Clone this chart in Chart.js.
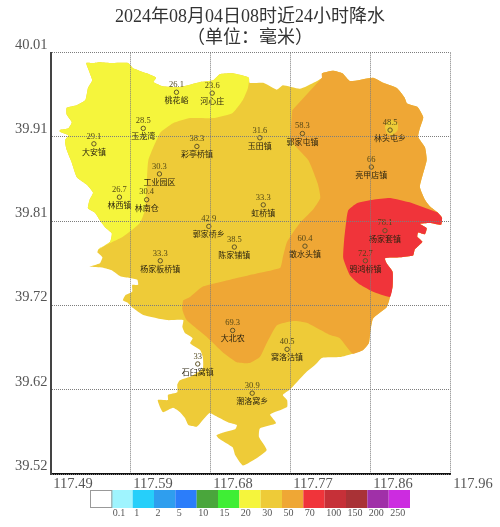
<!DOCTYPE html>
<html>
<head>
<meta charset="utf-8">
<style>
	html, body { margin: 0; padding: 0; background: #fff; }
	canvas { display: block; }
</style>
<script src="https://cdn.jsdelivr.net/npm/chart.js@4/dist/chart.umd.min.js"></script>
</head>
<body>
<canvas id="myChart" width="500" height="527"></canvas>
<script>
// Axis ticks
const xTickValues = [117.49, 117.584, 117.678, 117.772, 117.866, 117.96];
const xTickLabels = ['117.49', '117.59', '117.68', '117.77', '117.86', '117.96'];
const yTickValues = [39.52, 39.618, 39.716, 39.814, 39.912, 40.01];
const yTickLabels = ['39.52', '39.62', '39.72', '39.81', '39.91', '40.01'];

// Colour bar
const levelLabels = ['0.1', '1', '2', '5', '10', '15', '20', '30', '50', '70', '100', '150', '200', '250'];
const levelColors = ['#ffffff', '#9ff4fe', '#26cffa', '#2f9eee', '#2b7dfa', '#4aa63c', '#3fee35', '#f5f53c', '#eecb38', '#efa735', '#f0343a', '#c63038', '#a93236', '#a030a8', '#cc2ce0'];

// Stations
const stationNames = ['桃花峪', '河心庄', '玉龙湾', '大安镇', '彩亭桥镇', '玉田镇', '郭家屯镇', '林头屯乡', '亮甲店镇', '工业园区', '林西镇', '林南仓', '虹桥镇', '郭家桥乡', '陈家铺镇', '散水头镇', '杨家套镇', '鸦鸿桥镇', '杨家板桥镇', '大北农', '窝洛沽镇', '石臼窝镇', '潮洛窝乡'];
const stationRain = ['26.1', '23.6', '28.5', '29.1', '38.3', '31.6', '58.3', '48.5', '66', '30.3', '26.7', '30.4', '33.3', '42.9', '38.5', '60.4', '78.1', '72.7', '33.3', '69.3', '40.5', '33', '30.9'];
const stationLon = [117.638, 117.680, 117.599, 117.541, 117.662, 117.736, 117.786, 117.889, 117.867, 117.618, 117.571, 117.603, 117.740, 117.676, 117.706, 117.789, 117.883, 117.860, 117.619, 117.704, 117.768, 117.663, 117.727];
const stationLat = [39.964, 39.963, 39.922, 39.904, 39.901, 39.911, 39.916, 39.920, 39.877, 39.869, 39.842, 39.839, 39.833, 39.808, 39.784, 39.785, 39.803, 39.768, 39.768, 39.687, 39.665, 39.648, 39.614];

// County border, clockwise, cut where the rain contours reach it (lon, lat)
const coastWest = [[117.546,39.781],[117.560,39.790],[117.562,39.800],[117.554,39.807],[117.548,39.815],[117.542,39.824],[117.534,39.829],[117.536,39.839],[117.540,39.847],[117.533,39.856],[117.521,39.865],[117.515,39.882],[117.509,39.897],[117.507,39.908],[117.511,39.914],[117.501,39.918],[117.501,39.920],[117.511,39.922],[117.515,39.929],[117.509,39.938],[117.509,39.946],[117.521,39.949],[117.531,39.955],[117.534,39.969],[117.539,39.978],[117.532,39.998],[117.540,39.998],[117.548,39.999],[117.562,39.998],[117.581,39.998],[117.587,39.992],[117.603,39.986],[117.614,39.981],[117.611,39.976],[117.622,39.971],[117.642,39.970],[117.666,39.976],[117.681,39.978],[117.689,39.985],[117.704,39.986],[117.723,39.981]];
const coastNorth = [[117.724,39.975],[117.740,39.975],[117.756,39.967],[117.763,39.972],[117.783,39.968],[117.801,39.976]];
const coastEast = [[117.809,39.981],[117.809,39.986],[117.822,39.989],[117.833,39.986],[117.842,39.977],[117.869,39.981],[117.881,39.975],[117.897,39.969],[117.906,39.958],[117.909,39.951],[117.921,39.947],[117.928,39.935],[117.924,39.922],[117.922,39.912],[117.930,39.900],[117.932,39.885],[117.924,39.854],[117.930,39.839],[117.936,39.831]];
const coastRed = [[117.945,39.824],[117.950,39.818],[117.949,39.810],[117.936,39.812],[117.924,39.811],[117.932,39.806],[117.930,39.799],[117.922,39.801],[117.921,39.796],[117.927,39.790],[117.918,39.781],[117.916,39.774],[117.901,39.772],[117.883,39.771],[117.885,39.765],[117.892,39.755],[117.892,39.738],[117.889,39.726]];
const coastSouthEast = [[117.885,39.714],[117.869,39.701],[117.866,39.687],[117.864,39.672],[117.857,39.664],[117.845,39.660]];
const coastSouth = [[117.830,39.656],[117.809,39.655],[117.801,39.647],[117.789,39.637],[117.771,39.618],[117.763,39.612],[117.768,39.606],[117.768,39.598],[117.751,39.591],[117.748,39.589],[117.755,39.579],[117.736,39.573],[117.735,39.563],[117.744,39.548],[117.733,39.539],[117.716,39.530],[117.707,39.542],[117.704,39.551],[117.687,39.562],[117.685,39.565],[117.692,39.568],[117.707,39.572],[117.709,39.577],[117.699,39.580],[117.687,39.586],[117.677,39.591],[117.671,39.585],[117.662,39.575],[117.652,39.577],[117.648,39.585],[117.642,39.592],[117.634,39.597],[117.622,39.592],[117.616,39.606],[117.628,39.606],[117.628,39.612],[117.639,39.615],[117.639,39.624],[117.642,39.629],[117.656,39.634],[117.669,39.643],[117.669,39.656],[117.666,39.664],[117.654,39.672],[117.657,39.678],[117.648,39.684],[117.645,39.691],[117.646,39.699],[117.627,39.699],[117.599,39.705],[117.587,39.713],[117.581,39.719],[117.575,39.722],[117.578,39.728],[117.586,39.732],[117.586,39.740],[117.593,39.740],[117.592,39.746],[117.583,39.748],[117.572,39.750],[117.562,39.757],[117.552,39.760],[117.536,39.761],[117.548,39.765],[117.551,39.772],[117.545,39.778]];

// Rain contours (lon, lat)
const contourYellow = [[117.722,39.969],[117.716,39.955],[117.704,39.940],[117.681,39.934],[117.654,39.934],[117.634,39.928],[117.619,39.917],[117.605,39.885],[117.603,39.854],[117.601,39.827],[117.595,39.812],[117.575,39.796],[117.548,39.783]];
const contourOrange = [[117.830,39.678],[117.818,39.682],[117.791,39.696],[117.775,39.698],[117.756,39.693],[117.744,39.672],[117.736,39.656],[117.724,39.649],[117.709,39.650],[117.692,39.662],[117.674,39.679],[117.650,39.699],[117.645,39.711],[117.646,39.722],[117.654,39.726],[117.669,39.738],[117.701,39.746],[117.736,39.754],[117.760,39.760],[117.763,39.772],[117.768,39.790],[117.783,39.812],[117.798,39.827],[117.807,39.841],[117.804,39.858],[117.793,39.885],[117.773,39.908],[117.774,39.943]];
const contourRed = [[117.869,39.732],[117.854,39.740],[117.842,39.751],[117.834,39.771],[117.835,39.792],[117.838,39.818],[117.840,39.827],[117.850,39.835],[117.869,39.839],[117.889,39.841],[117.912,39.836]];
const patchLintou = [[117.883,39.923],[117.885,39.929],[117.891,39.932],[117.898,39.928],[117.898,39.920],[117.892,39.914],[117.885,39.916]];

function toPoints(parts) {
	return parts.flat().map(p => ({ x: p[0], y: p[1] }));
}

function area(parts, color, order) {
	return {
		data: toPoints(parts),
		showLine: true,
		fill: 'shape',
		tension: 0.15,
		borderWidth: 0,
		backgroundColor: color,
		pointRadius: 0,
		order: order
	};
}

const colorYellow = levelColors[7];
const colorGold = levelColors[8];
const colorOrange = levelColors[9];
const colorRed = levelColors[10];

const stationPoints = stationLon.map((lon, i) => ({ x: lon, y: stationLat[i] }));

// Rain values above the marker, place names under it
const stationText = {
	id: 'stationText',
	afterDatasetsDraw(chart) {
		const ctx = chart.ctx;
		ctx.save();
		ctx.textAlign = 'center';
		ctx.textBaseline = 'middle';
		stationPoints.forEach((p, i) => {
			const px = chart.scales.x.getPixelForValue(p.x);
			const py = chart.scales.y.getPixelForValue(p.y);
			ctx.font = '8.5px "Liberation Serif"';
			ctx.fillStyle = 'rgba(75,65,20,0.95)';
			ctx.fillText(stationRain[i], px, py - 7.5);
			ctx.font = '8px "Noto Sans CJK SC"';
			ctx.fillStyle = '#2b2410';
			ctx.fillText(stationNames[i], px, py + 8);
		});
		ctx.restore();
	}
};

const colorBar = {
	id: 'colorBar',
	afterDraw(chart) {
		const ctx = chart.ctx;
		const left = 90, top = 490, w = 320 / levelColors.length, h = 18;
		ctx.save();
		levelColors.forEach((c, i) => {
			ctx.fillStyle = c;
			ctx.fillRect(left + i * w, top, w, h);
		});
		ctx.strokeStyle = '#999';
		ctx.lineWidth = 1;
		ctx.strokeRect(left + 0.5, top + 0.5, w, h - 1);
		ctx.fillStyle = '#555';
		ctx.font = '10px "Liberation Serif"';
		ctx.textAlign = 'left';
		ctx.textBaseline = 'middle';
		levelLabels.forEach((t, i) => {
			ctx.fillText(t, left + (i + 1) * w + 1.5, 513);
		});
		ctx.restore();
	}
};

new Chart(document.getElementById('myChart'), {
	type: 'scatter',
	data: {
		datasets: [
			area([coastWest, coastNorth, coastEast, coastRed, coastSouthEast, coastSouth], colorGold, 6),
			area([coastWest, contourYellow], colorYellow, 5),
			area([coastEast, coastRed, coastSouthEast, contourOrange], colorOrange, 4),
			area([patchLintou], colorGold, 3),
			area([coastRed, contourRed], colorRed, 2),
			{
				data: stationPoints,
				showLine: false,
				pointStyle: 'circle',
				pointRadius: 2.2,
				pointBorderWidth: 1,
				pointBorderColor: '#5f5428',
				pointBackgroundColor: 'rgba(0,0,0,0)',
				order: 1
			}
		]
	},
	options: {
		responsive: false,
		animation: false,
		events: [],
		plugins: {
			legend: { display: false },
			tooltip: { enabled: false },
			title: {
				display: true,
				text: ['2024年08月04日08时近24小时降水', '（单位：毫米）'],
				color: '#333',
				font: { family: '"Liberation Serif", "Noto Sans CJK SC"', size: 18, weight: 'normal', lineHeight: 1.15 },
				padding: { top: 7, bottom: 4.3 }
			}
		},
		scales: {
			x: {
				type: 'linear',
				min: 117.49,
				max: 117.96,
				afterBuildTicks: scale => { scale.ticks = xTickValues.map(v => ({ value: v })); },
				afterFit: scale => { scale.height = 53; },
				grid: { z: 1, color: '#7d7d7d', drawTicks: false },
				border: { z: 1, color: '#111', width: 2, dash: [1, 1] },
				ticks: {
					color: '#555',
					font: { family: '"Liberation Serif"', size: 14.5 },
					padding: 1,
					labelOffset: 22.5,
					maxRotation: 0,
					autoSkip: false,
					callback: (v, i) => xTickLabels[i]
				}
			},
			y: {
				type: 'linear',
				min: 39.52,
				max: 40.01,
				afterBuildTicks: scale => { scale.ticks = yTickValues.map(v => ({ value: v })); },
				afterFit: scale => { scale.width = 50.5; },
				grid: { z: 1, color: '#7d7d7d', drawTicks: false },
				border: { z: 1, color: '#444', width: 2, dash: [1, 1] },
				ticks: {
					color: '#555',
					font: { family: '"Liberation Serif"', size: 14.5 },
					padding: 3,
					labelOffset: -8,
					autoSkip: false,
					callback: (v, i) => yTickLabels[i]
				}
			},
			// empty axis that only keeps the white margin right of the map
			rightMargin: {
				type: 'linear',
				position: 'right',
				afterFit: scale => { scale.width = 49.5; },
				grid: { display: false },
				border: { display: false },
				ticks: { display: false }
			}
		}
	},
	plugins: [stationText, colorBar]
});
</script>
</body>
</html>
